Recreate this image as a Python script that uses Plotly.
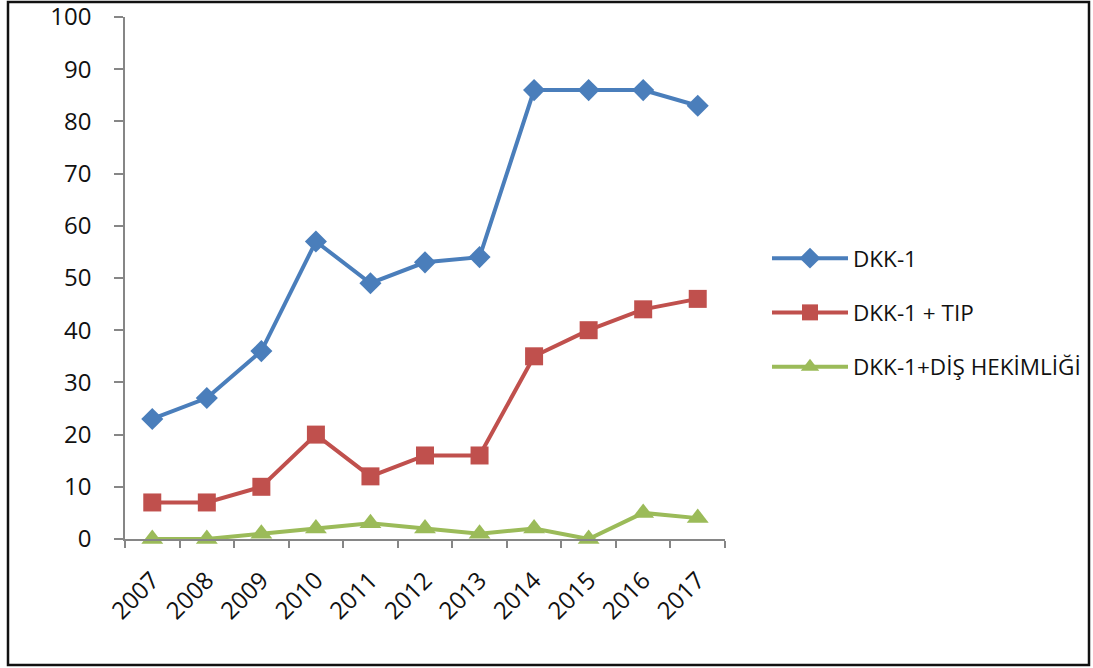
import plotly.graph_objects as go

years = ["2007", "2008", "2009", "2010", "2011", "2012", "2013", "2014", "2015", "2016", "2017"]
dkk1 = [23, 27, 36, 57, 49, 53, 54, 86, 86, 86, 83]
dkk1_tip = [7, 7, 10, 20, 12, 16, 16, 35, 40, 44, 46]
dkk1_dis = [0, 0, 1, 2, 3, 2, 1, 2, 0, 5, 4]
y_ticks = [0, 10, 20, 30, 40, 50, 60, 70, 80, 90, 100]

series = [
    ("DKK-1", dkk1, "#4A7EBB", "diamond", 17),
    ("DKK-1 + TIP", dkk1_tip, "#C0504D", "square", 18),
    ("DKK-1+DİŞ HEKİMLİĞİ", dkk1_dis, "#9BBB59", "triangle-up", 19),
]

fig = go.Figure()
for i, (name, vals, color, symbol, size) in enumerate(series):
    fig.add_trace(go.Scatter(
        x=years, y=vals, name=name, mode="lines+markers",
        legendgroup=f"g{i}",
        line=dict(color=color, width=4),
        marker=dict(color=color, symbol=symbol, size=size),
        cliponaxis=False,
    ))

W, H = 1093, 668
L, R, T, B = 125, 368, 17, 129
pw, ph = W - L - R, H - T - B
tick_font = dict(size=24, family="Open Sans", color="#111111")

fig.update_layout(
    width=W, height=H,
    margin=dict(l=L, r=R, t=T, b=B, autoexpand=False),
    paper_bgcolor="white", plot_bgcolor="white",
    font=dict(family="Open Sans", color="#000000"),
    showlegend=True,
    legend=dict(
        x=(767 - L) / pw, y=(539 - 237) / ph, xanchor="left", yanchor="top",
        font=dict(size=22.5, family="Open Sans", color="#111111"),
        traceorder="grouped", tracegroupgap=22, itemwidth=76,
        bgcolor="rgba(0,0,0,0)",
    ),
    xaxis=dict(
        type="category", range=[-0.5, len(years) - 0.5],
        showgrid=False, zeroline=False,
        showline=True, linecolor="#868686", linewidth=1.5,
        ticks="outside", tickson="boundaries", ticklen=7,
        tickcolor="#868686", tickwidth=1.5,
        tickangle=-45, tickfont=tick_font, automargin=False,
        ticklabelstandoff=16, ticklabeloverflow="allow",
    ),
    yaxis=dict(
        range=[0, 100], tickvals=y_ticks, showgrid=False, zeroline=False,
        showline=True, linecolor="#868686", linewidth=1.5,
        ticks="outside", ticklen=9, tickcolor="#868686", tickwidth=1.5,
        ticklabelstandoff=18, tickfont=tick_font, automargin=False,
        ticklabeloverflow="allow",
    ),
    shapes=[dict(
        type="rect", xref="paper", yref="paper",
        x0=(8 - L) / pw, x1=(1089 - L) / pw,
        y0=(H - B - 665) / ph, y1=(H - B - 2) / ph,
        line=dict(color="#111111", width=2.5), layer="below",
    )],
)

fig.write_html("out.html")
